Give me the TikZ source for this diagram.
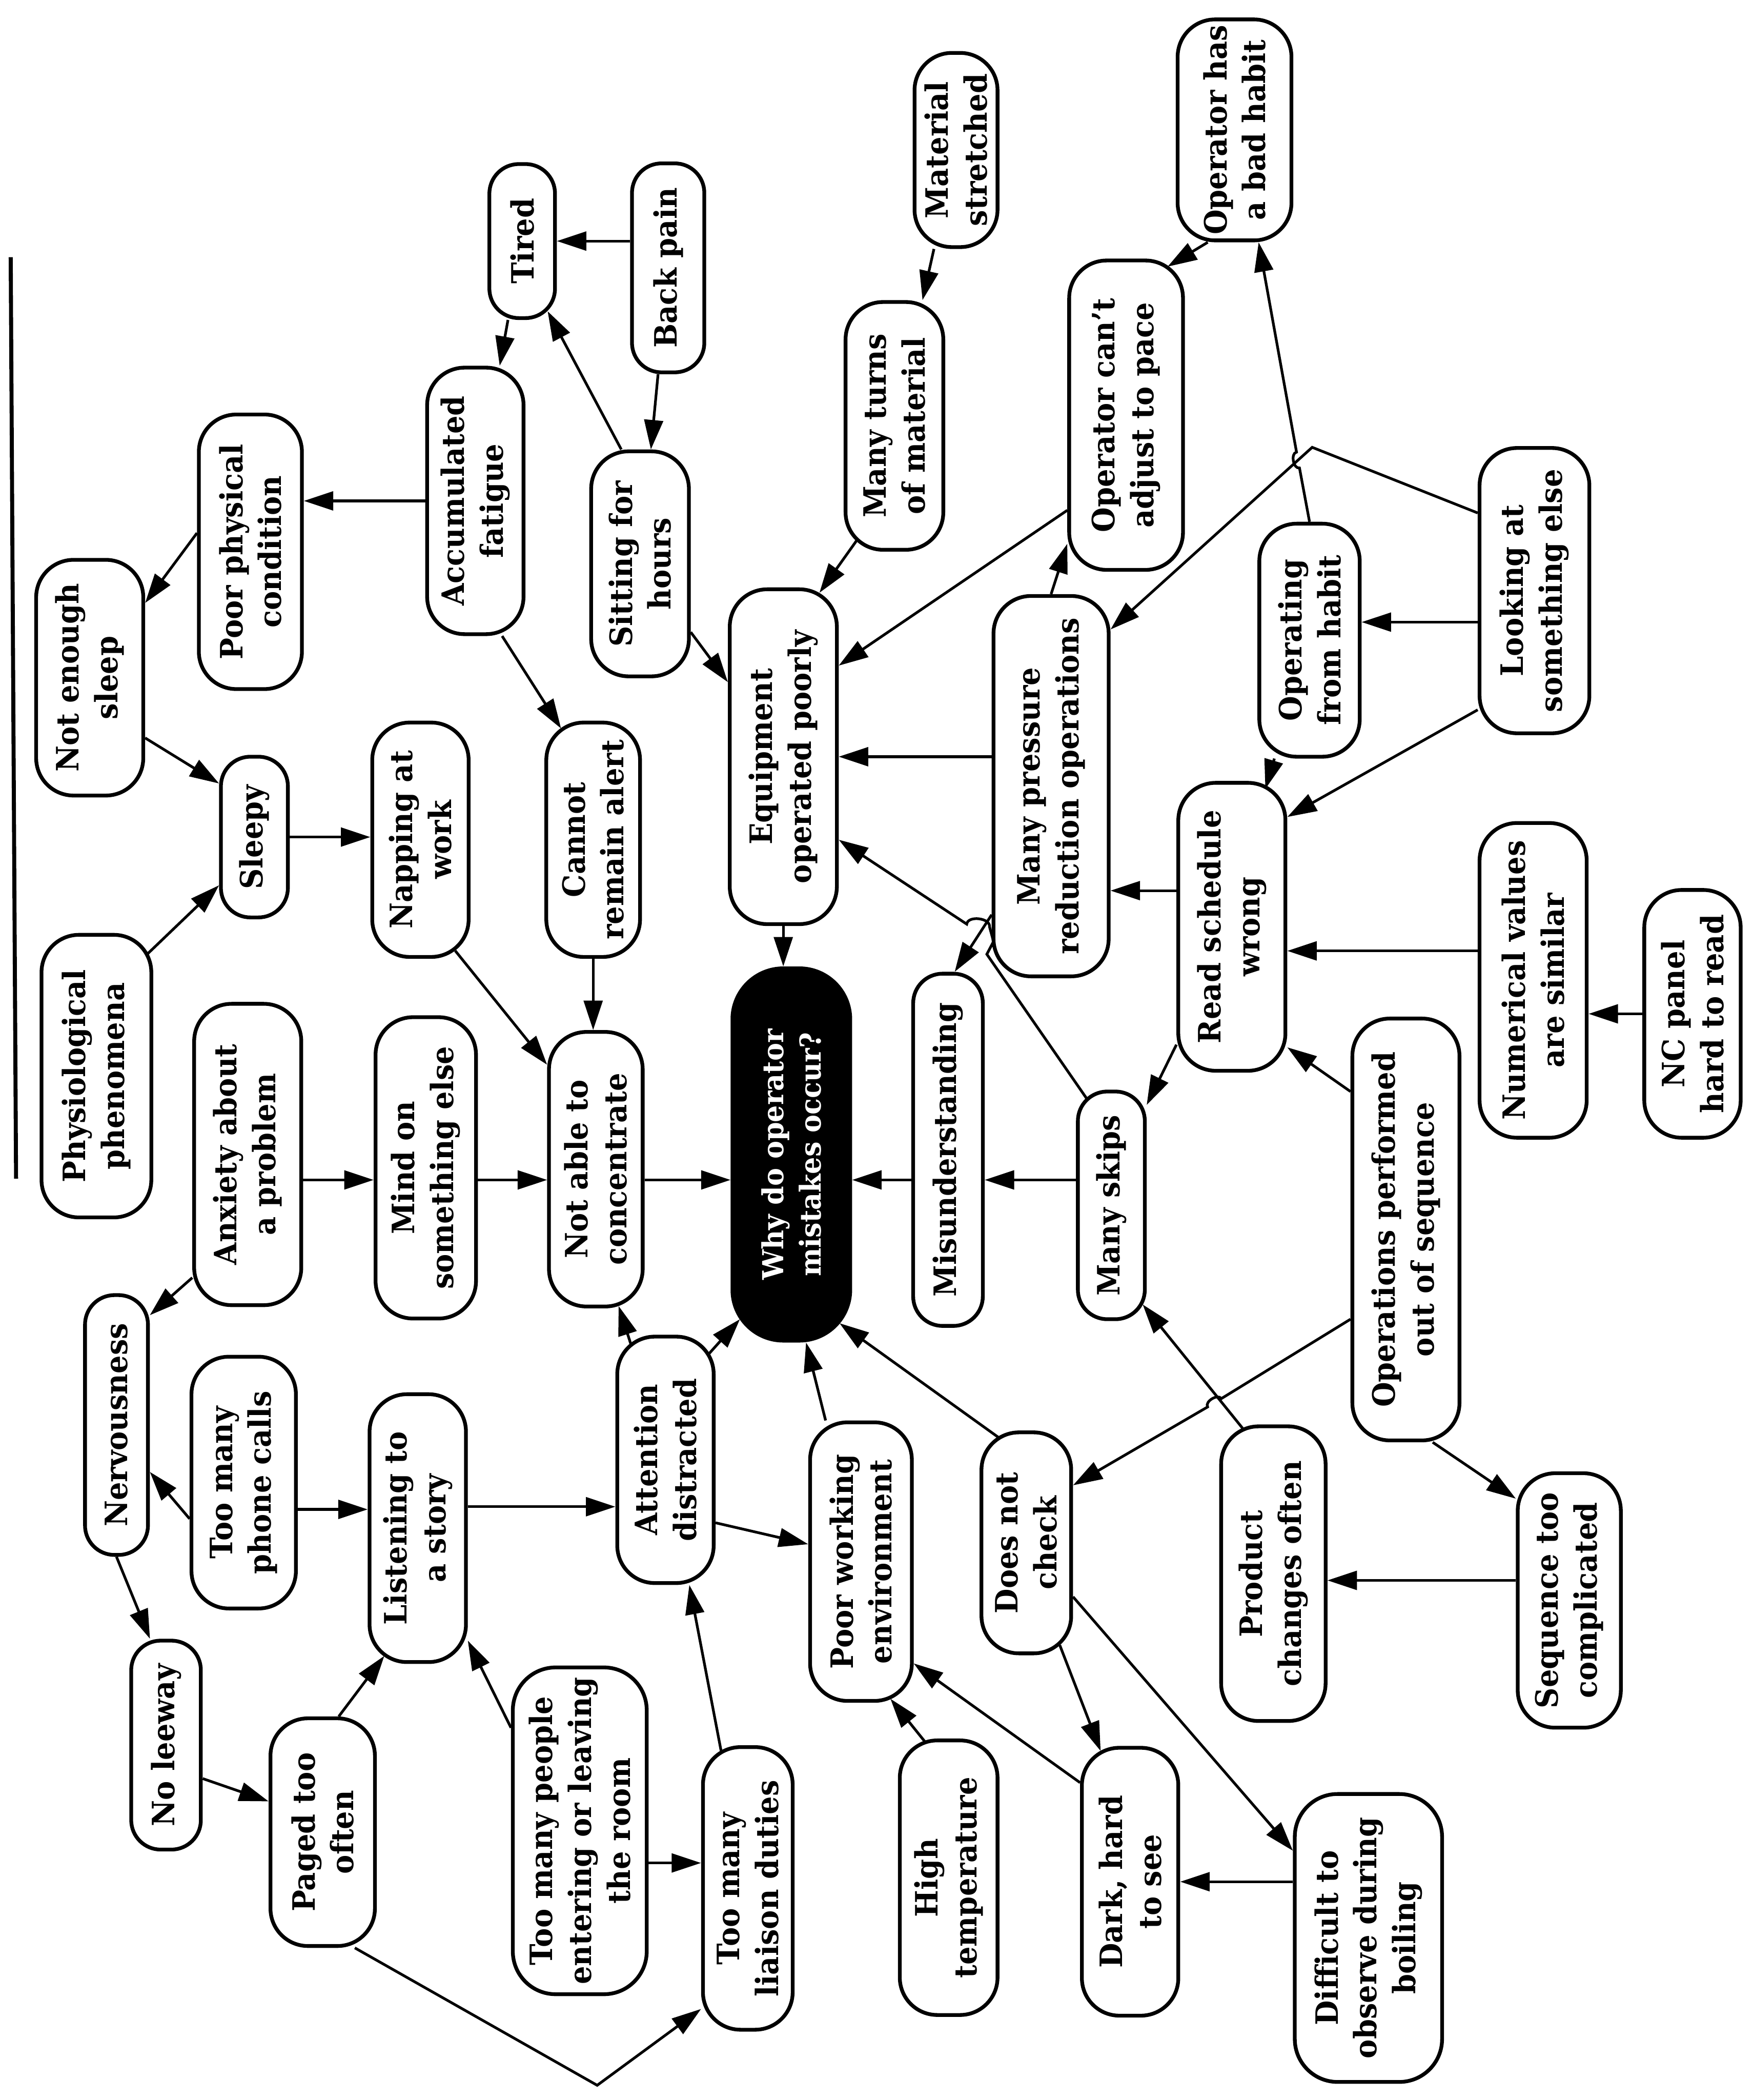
\documentclass[tikz,border=0pt]{standalone}
\usepackage{fontspec}
\setmainfont{DejaVu Serif}[FakeStretch=0.93]
\usetikzlibrary{arrows.meta,calc}
\begin{document}
\begin{tikzpicture}[x=0.5pt,y=-0.5pt,
  box/.style={draw, line width=1.4pt, rounded corners=14pt, rotate=90, align=center,
    inner sep=1pt, font=\fontsize{11.5}{14.5}\selectfont\bfseries},
  sbox/.style={box, rounded corners=11pt},
  tbox/.style={box, rounded corners=16pt},
  blackbox/.style={box, rounded corners=19pt, fill=black, text=white,
    font=\fontsize{10.8}{14}\selectfont\bfseries},
  arr/.style={-{Triangle[length=11pt,width=7pt]}, line width=1pt}]
\useasboundingbox (0,0) rectangle (1309,1568);
\draw[line width=1.5pt] (8,192) -- (12,880);
% nodes
\node[sbox, minimum width=57.5pt, minimum height=24.5pt] (tired) at (390,180) {Tired};
\node[sbox, minimum width=78pt, minimum height=27pt] (backpain) at (499,200) {Back pain};
\node[box, minimum width=72.5pt, minimum height=31pt] (material) at (714,112) {Material\\stretched};
\node[box, minimum width=82.5pt, minimum height=42.5pt] (badhabit) at (922,97) {Operator has\\a bad habit};
\node[box, minimum width=115.5pt, minimum height=42.5pt] (cantadjust) at (841,310) {Operator can't\\adjust to pace};
\node[box, minimum width=92.5pt, minimum height=36.5pt] (manyturns) at (668,318) {Many turns\\of material};
\node[box, minimum width=99.5pt, minimum height=36pt] (accum) at (355,374) {Accumulated\\fatigue};
\node[box, minimum width=84pt, minimum height=36.5pt] (sitting) at (478,421) {Sitting for\\hours};
\node[box, minimum width=102.5pt, minimum height=38.5pt] (poorphys) at (187,412) {Poor physical\\condition};
\node[box, minimum width=88pt, minimum height=40pt] (notenough) at (67,506) {Not enough\\sleep};
\node[box, minimum width=125pt, minimum height=40pt] (equip) at (585,565) {Equipment\\operated poorly};
\node[box, minimum width=142pt, minimum height=43pt] (manypress) at (785,587) {Many pressure\\reduction operations};
\node[box, minimum width=87pt, minimum height=37.5pt] (opfromhabit) at (978,478) {Operating\\from habit};
\node[box, minimum width=106.5pt, minimum height=41pt] (looking) at (1146,441) {Looking at\\something else};
\node[sbox, minimum width=60pt, minimum height=25pt] (sleepy) at (190,625) {Sleepy};
\node[box, minimum width=87.5pt, minimum height=36pt] (napping) at (314,627) {Napping at\\work};
\node[box, minimum width=87.5pt, minimum height=35pt] (cannot) at (443,627) {Cannot\\remain alert};
\node[box, minimum width=107.5pt, minimum height=40pt] (readsched) at (920,692) {Read schedule\\wrong};
\node[box, minimum width=117.5pt, minimum height=40pt] (numerical) at (1145,732) {Numerical values\\are similar};
\node[box, minimum width=92.5pt, minimum height=36pt] (ncpanel) at (1264,757) {NC panel\\hard to read};
\node[box, minimum width=105.5pt, minimum height=41pt] (physio) at (72,803.5) {Physiological\\phenomena};
\node[box, minimum width=112.5pt, minimum height=40pt] (anxiety) at (185,862) {Anxiety about\\a problem};
\node[box, minimum width=112.5pt, minimum height=37.5pt] (mind) at (318,872) {Mind on\\something else};
\node[box, minimum width=102.5pt, minimum height=35pt] (notable) at (445,873) {Not able to\\concentrate};
\node[blackbox, minimum width=139pt, minimum height=44pt] (why) at (591,862) {Why do operator\\mistakes occur?};
\node[sbox, minimum width=131.5pt, minimum height=26pt] (misund) at (708,858.5) {Misunderstanding};
\node[sbox, minimum width=85pt, minimum height=25pt] (skips) at (830,900) {Many skips};
\node[box, minimum width=157.5pt, minimum height=40pt] (outseq) at (1050,918) {Operations performed\\out of sequence};
\node[sbox, minimum width=97pt, minimum height=23.5pt] (nervous) at (87,1064) {Nervousness};
\node[box, minimum width=94pt, minimum height=39pt] (phone) at (182,1107) {Too many\\phone calls};
\node[box, minimum width=100pt, minimum height=36pt] (listening) at (312,1141) {Listening to\\a story};
\node[box, minimum width=92pt, minimum height=36pt] (attention) at (497,1090) {Attention\\distracted};
\node[box, minimum width=104pt, minimum height=38pt] (poorwork) at (643,1166) {Poor working\\environment};
\node[box, minimum width=82.5pt, minimum height=33.5pt] (doesnot) at (766.5,1152) {Does not\\check};
\node[box, minimum width=110pt, minimum height=39pt] (product) at (951,1175) {Product\\changes often};
\node[box, minimum width=95pt, minimum height=38.5pt] (sequence) at (1172,1195) {Sequence too\\complicated};
\node[sbox, minimum width=78pt, minimum height=26pt] (noleeway) at (124,1303) {No leeway};
\node[box, minimum width=85pt, minimum height=39pt] (paged) at (241,1368) {Paged too\\often};
\node[tbox, minimum width=122pt, minimum height=50pt] (people) at (433,1367) {Too many people\\entering or leaving\\the room};
\node[box, minimum width=105.5pt, minimum height=33.5pt] (liaison) at (558.5,1410) {Too many\\liaison duties};
\node[box, minimum width=102.5pt, minimum height=36.5pt] (hightemp) at (708.5,1402) {High\\temperature};
\node[box, minimum width=100pt, minimum height=36pt] (dark) at (844,1405) {Dark, hard\\to see};
\node[tbox, minimum width=107.5pt, minimum height=55pt] (difficult) at (1022,1447) {Difficult to\\observe during\\boiling};
% helper coordinates
\coordinate (hl) at (0,881);
\coordinate (lc) at (980,334);
\coordinate (h1a) at (970.5,349.4);
\coordinate (h1b) at (968.3,337.6);
\coordinate (k2) at (737,712.5);
\coordinate (k3) at (742,703);
\coordinate (h2a) at (739,692);
\coordinate (h2b) at (722,690);
\coordinate (h3a) at (912.1,1044.3);
\coordinate (h3b) at (901.9,1050.5);
\coordinate (vb) at (446,1557);
% connectors
\draw[arr] (tired -| backpain.north) -- (tired.south);
\draw[arr] (backpain) -- (sitting);
\draw[arr] ([xshift=-7pt]sitting.east) -- ([xshift=9.5pt,yshift=3.25pt]tired.west);
\draw[arr] (tired) -- (accum);
\draw[arr] (accum.north) -- (accum.north -| poorphys.south);
\draw[arr] ([yshift=7pt]poorphys.north) -- (notenough);
\draw[arr] ([yshift=-22.5pt]notenough.south) -- ([yshift=20pt]sleepy.north);
\draw[arr] ([xshift=-2pt,yshift=45.75pt]physio.south) -- ([yshift=-18pt]sleepy.north);
\draw[arr] (sleepy.south) -- (sleepy.south -| napping.north);
\draw[arr] ([xshift=10pt]accum.west) -- ([xshift=-12pt,yshift=-2.9pt]cannot.east);
\draw[arr] ([xshift=13pt,yshift=3pt]napping.west) -- ([yshift=39pt]notable.north);
\draw[arr] (cannot.west) -- (cannot.west |- notable.east);
\draw[arr] (material) -- (manyturns);
\draw[arr] ([xshift=-14.15pt,yshift=4.1pt]manyturns.west) -- ([xshift=13.5pt,yshift=-2pt]equip.east);
\draw[arr] (sitting) -- (equip);
\draw[arr] ([xshift=-10pt]badhabit.west) -- ([xshift=15.5pt,yshift=-3pt]cantadjust.east);
\draw[arr] ([yshift=-35.5pt]cantadjust.north) -- ([yshift=34pt]equip.south);
\draw[arr] (manypress.east) -- ([yshift=-48pt]cantadjust.north);
\draw[arr] (equip -| manypress.north) -- (equip.south);
\draw[arr] ([yshift=13.5pt]readsched.north) -- ([yshift=13.5pt]readsched.north -| manypress.south);
\draw[arr] ([yshift=11pt]numerical.north) -- ([yshift=11pt]numerical.north -| readsched.south);
\draw[arr] (ncpanel.north) -- (ncpanel.north -| numerical.south);
\draw[arr] ([yshift=-11.75pt]looking.north) -- ([yshift=-11.75pt]looking.north -| opfromhabit.south);
\draw[arr] (opfromhabit) -- ([xshift=12.5pt,yshift=-3pt]readsched.east);
\draw[arr] ([yshift=-44.5pt]looking.north) -- ([yshift=41pt]readsched.south);
\draw[arr] ([yshift=29pt]looking.north) -- (lc) -- ([yshift=58.5pt]manypress.south);
\draw[arr] (opfromhabit.east) -- (h1a) to[bend left=90] (h1b) -- ([xshift=9pt]badhabit.west);
\draw[arr] (equip.west) -- (equip.west |- why.east);
\draw[arr] ([yshift=-48pt]manypress.north) -- ([xshift=2.5pt]misund.east);
\draw[arr] ([xshift=-9.3pt,yshift=-3.2pt]skips.east) -- (k2) -- (k3) -- (h2a) to[bend right=90] (h2b) -- ([yshift=-31pt]equip.south);
\draw[arr] ([yshift=-44pt]readsched.north) -- ([yshift=37.5pt]skips.south);
\draw[arr] ([yshift=51.5pt]outseq.north) -- ([yshift=-45pt]readsched.south);
\draw[arr] ([xshift=-11.5pt,yshift=-1.4pt]product.east) -- ([xshift=-1.5pt,yshift=-37pt]skips.south);
\draw[arr] ([xshift=10pt]outseq.west) -- ([yshift=38pt]sequence.north);
\draw[arr] ([yshift=7.5pt]sequence.north) -- ([yshift=7.5pt]sequence.north -| product.south);
\draw[arr] ([yshift=-33.5pt]outseq.north) -- (h3a) to[bend right=90] (h3b) -- ([yshift=21.5pt]doesnot.south);
\draw[arr] (anxiety.south |- hl) -- (mind.north |- hl);
\draw[arr] (mind.south |- hl) -- (notable.north |- hl);
\draw[arr] (notable.south |- hl) -- (why.north |- hl);
\draw[arr] (misund.north |- hl) -- (why.south |- hl);
\draw[arr] (skips.north |- hl) -- (misund.south |- hl);
\draw[arr] ([xshift=-10.5pt,yshift=-2.5pt]doesnot.east) -- ([xshift=-4.7pt,yshift=-63pt]why.south);
\draw[arr] (poorwork) -- ([xshift=5.5pt]why.west);
\draw[arr] ([xshift=-3pt,yshift=39pt]attention.south) -- ([xshift=3.5pt,yshift=-61.5pt]why.north);
\draw[arr] ([xshift=-13pt,yshift=-3.3pt]attention.east) -- ([xshift=8.5pt,yshift=0.9pt]notable.west);
\draw[arr] ([yshift=-23.5pt]attention.south) -- ([yshift=6.5pt]poorwork.north);
\draw[arr] ([yshift=8pt]listening.south) -- ([yshift=8pt]listening.south -| attention.north);
\draw[arr] ([yshift=-10pt]phone.south) -- ([yshift=-10pt]phone.south -| listening.north);
\draw[arr] ([yshift=-13.5pt]phone.north) -- ([yshift=-17.5pt]nervous.south);
\draw[arr] ([yshift=-46pt]anxiety.north) -- ([yshift=41pt]nervous.south);
\draw[arr] (nervous.west) -- ([xshift=-6pt]noleeway.east);
\draw[arr] ([yshift=-12.5pt]noleeway.south) -- ([yshift=11.5pt]paged.north);
\draw[arr] ([xshift=6pt]paged.east) -- ([xshift=-12.5pt,yshift=3pt]listening.west);
\draw[arr] ([yshift=38.5pt]people.north) -- ([yshift=-42pt]listening.south);
\draw[arr] ([yshift=-12pt]people.south) -- ([yshift=-12pt]people.south -| liaison.north);
\draw[arr] ([xshift=12pt]paged.west) -- (vb) -- ([yshift=-45pt]liaison.north);
\draw[arr] ([xshift=-10pt,yshift=-2pt]liaison.east) -- (attention);
\draw[arr] ([xshift=-9pt,yshift=-1pt]hightemp.east) -- ([xshift=11pt,yshift=1.5pt]poorwork.west);
\draw[arr] ([yshift=37pt]dark.north) -- ([yshift=-38pt]poorwork.south);
\draw[arr] ([xshift=12.5pt,yshift=3.75pt]doesnot.west) -- ([xshift=-11pt,yshift=-1.9pt]dark.east);
\draw[arr] (doesnot) -- (difficult);
\draw[arr] ([yshift=21pt]difficult.north) -- ([yshift=21pt]difficult.north -| dark.south);
\end{tikzpicture}
\end{document}
